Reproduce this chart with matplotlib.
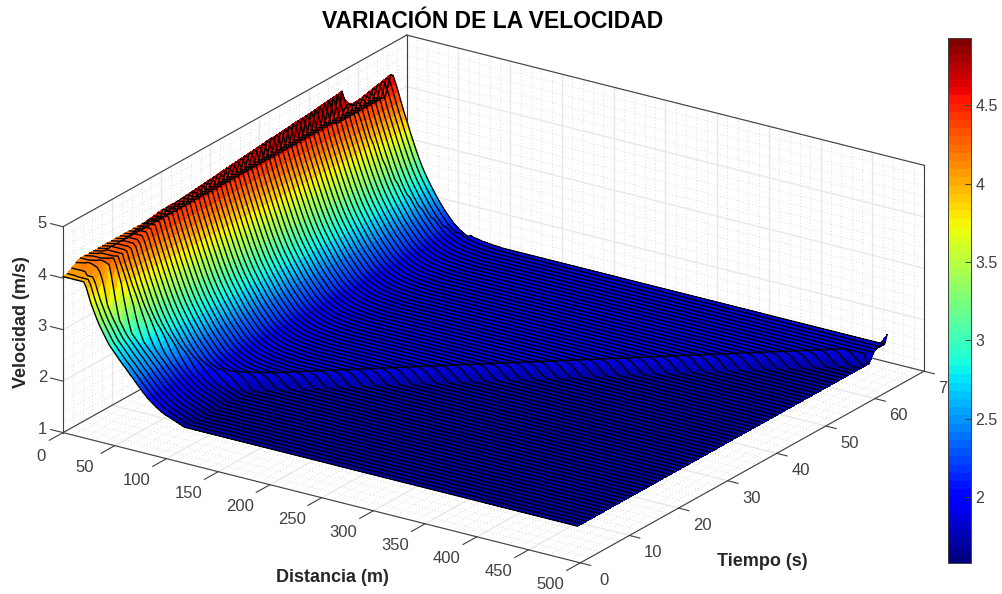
import numpy as np
import matplotlib
matplotlib.use('Agg')
import matplotlib.pyplot as plt
from matplotlib.cm import ScalarMappable
from mpl_toolkits.mplot3d import proj3d

plt.rcParams['font.family'] = 'Liberation Sans'

# datos
distancia = np.arange(0, 500, 2.5)
tiempo = [0, 0.9, 1.8, 2.7, 3.6, 4.5, 5.4, 6.3, 7.2, 8.1,
          9, 9.9, 10.8, 11.7, 12.6, 13.5, 14.4, 15.3, 16.2, 17.1,
          18, 18.9, 19.8, 20.7, 21.6, 22.5, 23.4, 24.3, 25.2, 26.1,
          27, 27.9, 28.8, 29.7, 30.6, 31.5, 32.4, 33.3, 34.2, 35.1,
          36, 36.9, 37.8, 38.7, 39.6, 40.5, 41.4, 42.3, 43.2, 44.1,
          45, 45.9, 46.8, 47.7, 48.6, 49.5, 50.4, 51.3, 52.2, 53.1,
          54, 54.9, 55.8, 56.7, 57.6, 58.5, 59.4, 60.3, 61.2, 62.1, 63]
# perfil antes de que llegue la onda (cada 2.5 m, luego constante)
v_inicial = [4.03] * 9 + [3.93, 3.77, 3.62, 3.50, 3.38, 3.27, 3.18, 3.09, 3.00, 2.92, 2.86, 2.80, 2.74, 2.68, 2.62,
                          2.57, 2.51, 2.45, 2.40, 2.34, 2.28, 2.23, 2.17, 2.12, 2.07, 2.03, 1.99, 1.95, 1.92, 1.89,
                          1.86, 1.84, 1.82, 1.80, 1.78, 1.76, 1.74, 1.72, 1.70]
# perfil detras de la onda (sube hasta la cresta y luego baja)
v_regimen = [4.20, 4.21, 4.22, 4.23, 4.25, 4.30, 4.50, 4.95, 4.75, 4.60, 4.45, 4.28, 4.12, 3.97, 3.82, 3.67, 3.53,
             3.39, 3.26, 3.14, 3.03, 2.93, 2.84, 2.75, 2.67, 2.59, 2.51, 2.44, 2.37, 2.31, 2.25, 2.19, 2.14, 2.10,
             2.06, 2.03, 2.00, 1.98, 1.96, 1.94, 1.93, 1.92, 1.91, 1.90, 1.90, 1.89, 1.89, 1.88, 1.88, 1.88, 1.87]
# velocidad maxima en cada instante
cresta = [4.03, 4.04, 4.10, 4.16, 4.20, 4.23, 4.26, 4.28, 4.30, 4.31,
          4.33, 4.35, 4.38, 4.40, 4.42, 4.44, 4.46, 4.47, 4.49, 4.51,
          4.52, 4.53, 4.54, 4.55, 4.56, 4.57, 4.58, 4.59, 4.60, 4.61,
          4.62, 4.63, 4.64, 4.65, 4.66, 4.67, 4.68, 4.69, 4.70, 4.71,
          4.72, 4.73, 4.74, 4.75, 4.75, 4.76, 4.77, 4.78, 4.79, 4.80,
          4.80, 4.81, 4.82, 4.83, 4.84, 4.85, 4.86, 4.87, 4.88, 4.90,
          4.62, 4.60, 4.59, 4.60, 4.62, 4.64, 4.66, 4.68, 4.70, 4.72, 4.74]
# posicion de la onda en cada instante
frente_onda = [0, 8, 15, 22, 30, 37, 45, 52, 60, 67,
               75, 82, 90, 97, 105, 112, 120, 127, 135, 142,
               150, 157, 165, 172, 180, 187, 195, 202, 210, 217,
               225, 232, 240, 247, 255, 262, 270, 277, 285, 292,
               300, 307, 315, 322, 330, 337, 345, 352, 360, 367,
               375, 382, 390, 397, 405, 412, 420, 427, 435, 442,
               450, 457, 465, 472, 480, 487, 495, 502, 510, 517, 525]
sobrepaso = [0.01, 0.02, 0.03, 0.05, 0.06, 0.05, 0.03, 0.01]
rampa_frente = [0.75, 0.5, 0.25]
# segunda onda, ultimas filas
frente_onda2 = [20, 27, 35, 42, 50, 57, 65, 72, 80, 87, 95]
caida_onda2 = 0.05
pico_final = [1.95, 2.00, 2.07]

x_ticks = [0, 50, 100, 150, 200, 250, 300, 350, 400, 450, 500]
t_ticks = [0, 10, 20, 30, 40, 50, 60, 70]
z_ticks = [1, 2, 3, 4, 5]
cbar_ticks = [2, 2.5, 3, 3.5, 4, 4.5]
v_min = 1.58
v_max = 4.93

n = len(distancia)
v_inicial = np.array(v_inicial + [v_inicial[-1]] * (n - len(v_inicial)))
v_regimen = np.array(v_regimen + [v_regimen[-1]] * (n - len(v_regimen)))

V = np.zeros((len(tiempo), n))
for i in range(len(tiempo)):
    detras = distancia < frente_onda[i]
    fila = np.minimum(v_regimen, cresta[i])
    V[i] = np.where(detras, fila, v_inicial)
    j = detras.sum()
    if j >= len(sobrepaso) and j + len(rampa_frente) < n:
        V[i, j:j + len(rampa_frente)] += np.array(rampa_frente) * (fila - v_inicial)[j:j + len(rampa_frente)]
        V[i, j - len(sobrepaso):j] += sobrepaso
for k, f in enumerate(frente_onda2):
    i = len(tiempo) - len(frente_onda2) + k
    V[i, distancia < f] -= caida_onda2
V[-3:, -1] = pico_final

X, T = np.meshgrid(distancia, tiempo)

fig = plt.figure(figsize=(10.02, 5.94), dpi=100)
ax = fig.add_axes([-21 / 1002, -219.5 / 594, 1, 1002 / 594], projection='3d', computed_zorder=False)
ax.set_proj_type('ortho')
ax.view_init(elev=22, azim=-56.1)
ax.set_box_aspect((623, 616, 222), zoom=0.876)
ax.set_xlim(0, 500)
ax.set_ylim(0, 70)
ax.set_zlim(1, 5)
ax.set_axis_off()

gris = '#e8e8e8'
gris_min = '#d0d0d0'
linea = '#404040'


def rejilla(a, b, c, major):
    if major:
        ax.plot(a, b, c, color=gris, lw=1, zorder=1)
    else:
        ax.plot(a, b, c, color=gris_min, lw=0.6, ls=(0, (1, 3)), zorder=1)


def etiqueta(x, t, z, s):
    xp, yp, _ = proj3d.proj_transform(x, t, z, ax.get_proj())
    ax.text2D(xp, yp, s, transform=ax.transData, ha='center', va='center', fontsize=12, color='#404040')


# suelo y paredes
for xv in np.arange(0, 501, 10):
    major = xv % 50 == 0
    rejilla([xv, xv], [0, 70], [1, 1], major)
    rejilla([xv, xv], [70, 70], [1, 5], major)
for tv in np.arange(0, 71, 2):
    major = tv % 10 == 0
    rejilla([0, 500], [tv, tv], [1, 1], major)
    rejilla([0, 0], [tv, tv], [1, 5], major)
for zv in np.arange(1, 5.01, 0.2):
    major = abs(zv - round(zv)) < 1e-6
    rejilla([0, 500], [70, 70], [zv, zv], major)
    rejilla([0, 0], [0, 70], [zv, zv], major)

# caja
for a, b, c in [([0, 500], [0, 0], [1, 1]), ([0, 500], [70, 70], [1, 1]), ([0, 0], [0, 70], [1, 1]),
                ([500, 500], [0, 70], [1, 1]), ([0, 0], [0, 0], [1, 5]), ([0, 0], [70, 70], [1, 5]),
                ([500, 500], [70, 70], [1, 5]), ([0, 0], [0, 70], [5, 5]), ([0, 500], [70, 70], [5, 5])]:
    ax.plot(a, b, c, color=linea, lw=0.8, zorder=2)

cmap = plt.get_cmap('jet', 64)
norm = plt.Normalize(v_min, v_max)
ax.plot_surface(X, T, V, rstride=1, cstride=1, cmap=cmap, norm=norm, shade=False, linewidth=0,
                antialiased=False, zorder=3)
for i in range(len(tiempo)):
    ax.plot(distancia, T[i], V[i], color='black', lw=1.0, zorder=4)

# marcas y etiquetas
for xv in x_ticks:
    ax.plot([xv, xv], [0, -2.8], [1, 1], color=linea, lw=0.8, zorder=2)
    etiqueta(xv + 8 if xv == 0 else xv, -6.1, 0.9, str(xv))
for tv in t_ticks:
    ax.plot([500, 510], [tv, tv], [1, 1], color=linea, lw=0.8, zorder=2)
    etiqueta(523, tv, 0.78, str(tv))
for zv in z_ticks:
    ax.plot([0, -12], [0, 0], [zv, zv], color=linea, lw=0.8, zorder=2)
    etiqueta(-20, 0, zv - 0.04, str(zv))

fig.text(493 / 1002, 1 - 22 / 594, 'VARIACIÓN DE LA VELOCIDAD', ha='center', va='center', fontsize=16.5, fontweight='bold')
fig.text(332 / 1002, 1 - 577 / 594, 'Distancia (m)', ha='center', va='center', fontsize=13, fontweight='bold',
         color='#262626')
fig.text(762 / 1002, 1 - 562 / 594, 'Tiempo (s)', ha='center', va='center', fontsize=13, fontweight='bold',
         color='#262626')
fig.text(22 / 1002, 1 - 322 / 594, 'Velocidad (m/s)', ha='center', va='center', rotation=90, fontsize=13,
         fontweight='bold', color='#262626')

cax = fig.add_axes([948 / 1002, 1 - 563 / 594, 23 / 1002, 525 / 594])
cax.set_zorder(10)
cb = fig.colorbar(ScalarMappable(norm=norm, cmap=cmap), cax=cax)
cb.set_ticks(cbar_ticks)
cb.set_ticklabels(['2', '2.5', '3', '3.5', '4', '4.5'])
cb.ax.tick_params(direction='in', length=4, width=0.7, labelsize=11.5, labelcolor='#404040', color=linea, pad=3)
cb.outline.set_edgecolor(linea)
cb.outline.set_linewidth(0.7)

fig.savefig('out.png', dpi=100)
